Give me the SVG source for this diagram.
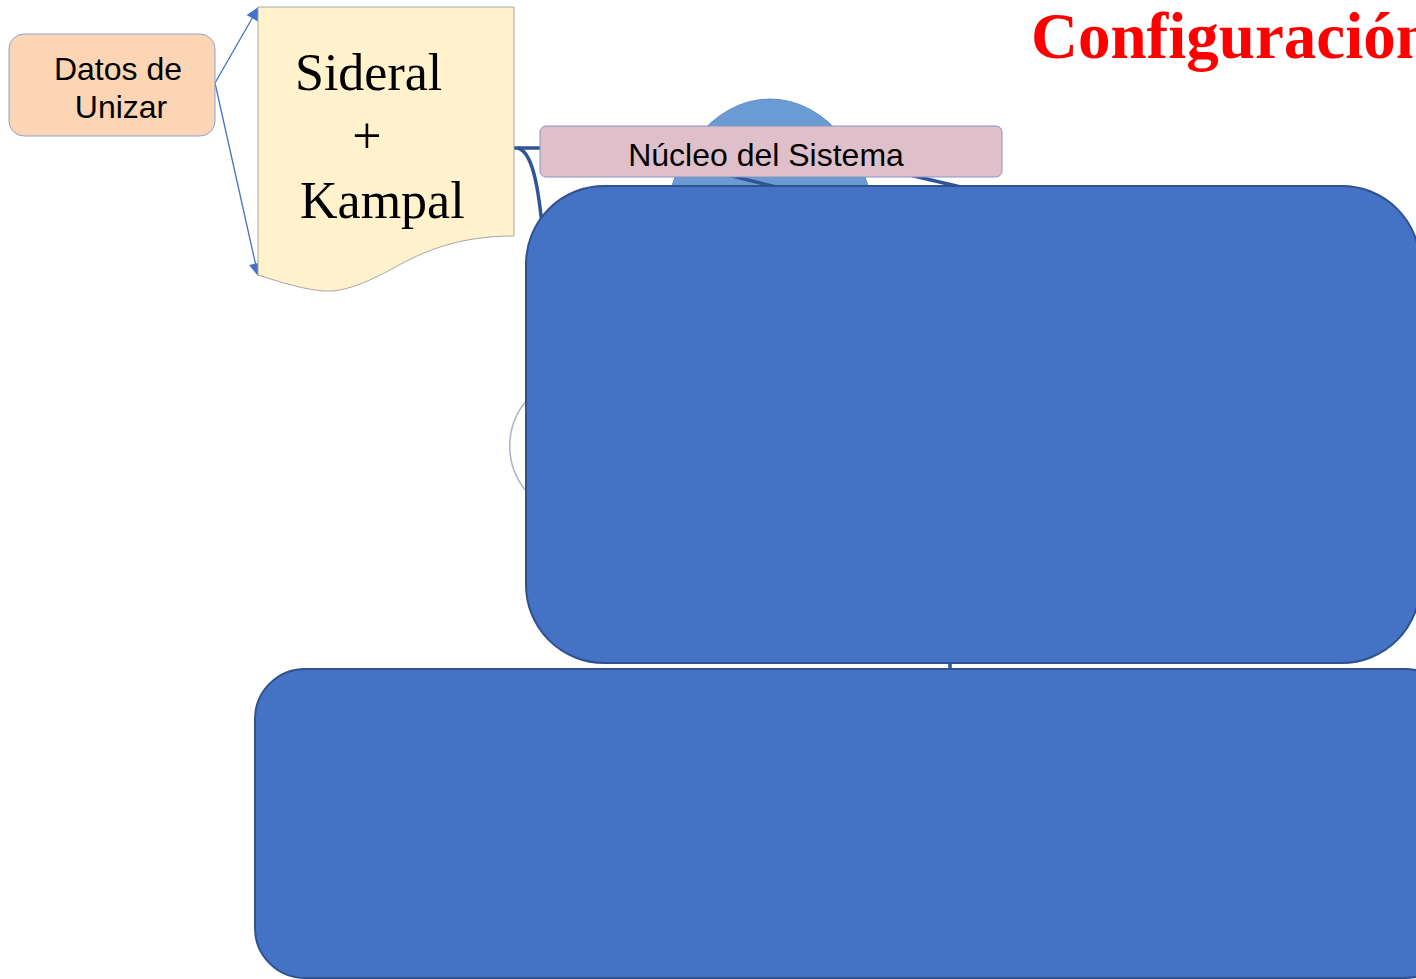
<svg xmlns="http://www.w3.org/2000/svg" width="1416" height="979" viewBox="0 0 1416 979">
<defs>
<style>
.sans{font-family:"Liberation Sans",Arial,sans-serif;fill:#000}
.serif{font-family:"Liberation Serif","Times New Roman",serif;fill:#000}
.big{fill:#4472C4;stroke:#2F528F;stroke-width:2}
.conn{fill:none;stroke:#2F5597;stroke-width:3.5}
.arrow{fill:none;stroke:#4472C4;stroke-width:1.3}
</style>
<marker id="ah" viewBox="0 0 10 10" refX="9" refY="5" markerWidth="15" markerHeight="13" markerUnits="userSpaceOnUse" orient="auto">
<path d="M0,0 L10,5 L0,10 z" fill="#4472C4"/>
</marker>
</defs>
<rect width="1416" height="979" fill="#fff"/>

<g id="title">
<text x="1031" y="58" font-family="Liberation Serif, Times New Roman, serif" font-weight="bold" font-size="65" fill="#FF0000">Configuración</text>
</g>

<g id="circle-bg">
<ellipse cx="770" cy="239" rx="106" ry="140" fill="#6A9BD3" stroke="#5B8CC8" stroke-width="1"/>
<path d="M527,400 A70,70 0 0 0 527,492" fill="none" stroke="#A8B4C4" stroke-width="1.5"/>
</g>

<g id="connectors">
<path class="conn" d="M514,148 L542,148"/>
<path class="conn" d="M518,148 C532,152 538,185 542,225"/>
<path class="conn" d="M700,168 L780,188"/>
<path class="conn" d="M880,168 L965,188"/>
<path class="conn" d="M950,660 L950,672"/>
<line class="arrow" x1="215" y1="83" x2="258" y2="8" marker-end="url(#ah)"/>
<line class="arrow" x1="215" y1="83" x2="258" y2="275" marker-end="url(#ah)"/>
</g>

<g id="datos">
<rect x="9" y="34" width="206" height="102" rx="15" fill="#FCD5B4" stroke="#8EA3CF" stroke-width="1"/>
<text class="sans" x="118" y="80" font-size="32" text-anchor="middle">Datos de</text>
<text class="sans" x="121" y="118" font-size="32" text-anchor="middle">Unizar</text>
</g>

<g id="sideral">
<path d="M258,7 L514,7 L514,236 C460,236 425,250 390,270 C360,286 340,292 325,291 C305,290 280,282 258,275 Z" fill="#FFF2CC" stroke="#A6A6A6" stroke-width="1"/>
<text class="serif" x="295" y="90" font-size="52">Sideral</text>
<text class="serif" x="367" y="153" font-size="52" text-anchor="middle">+</text>
<text class="serif" x="300" y="218" font-size="52">Kampal</text>
</g>

<g id="nucleo">
<rect x="540" y="126" width="462" height="51" rx="6" fill="#DFC0CA" stroke="#8596C4" stroke-width="1"/>
<text class="sans" x="766" y="166" font-size="32" text-anchor="middle">Núcleo del Sistema</text>
</g>

<g id="box1">
<rect class="big" x="526" y="186" width="894" height="477" rx="78"/>
</g>

<g id="box2">
<rect class="big" x="255" y="669" width="1200" height="309" rx="50"/>
</g>
</svg>
